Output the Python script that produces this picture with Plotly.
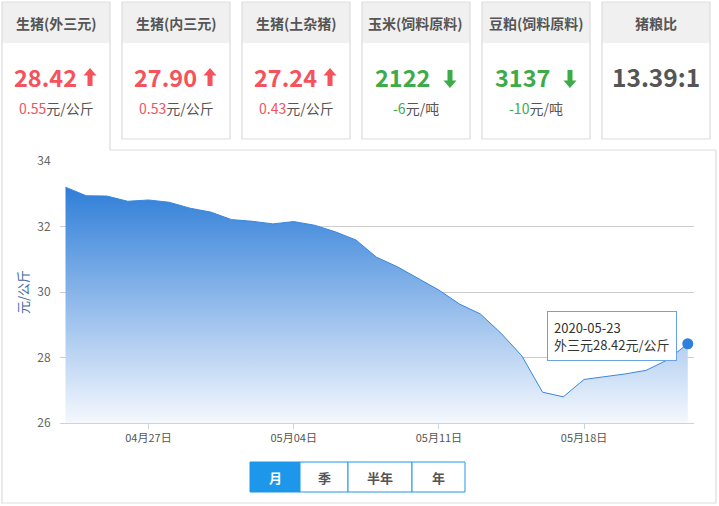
import plotly.graph_objects as go

# ---------------- data ----------------
dates = ["2020-04-23", "2020-04-24", "2020-04-25", "2020-04-26", "2020-04-27", "2020-04-28",
         "2020-04-29", "2020-04-30", "2020-05-01", "2020-05-02", "2020-05-03", "2020-05-04",
         "2020-05-05", "2020-05-06", "2020-05-07", "2020-05-08", "2020-05-09", "2020-05-10",
         "2020-05-11", "2020-05-12", "2020-05-13", "2020-05-14", "2020-05-15", "2020-05-16",
         "2020-05-17", "2020-05-18", "2020-05-19", "2020-05-20", "2020-05-21", "2020-05-22",
         "2020-05-23"]
prices = [33.20, 32.94, 32.93, 32.77, 32.81, 32.74, 32.56, 32.44, 32.21, 32.16, 32.08, 32.15,
          32.04, 31.84, 31.59, 31.06, 30.77, 30.42, 30.06, 29.63, 29.33, 28.74, 28.05, 26.94,
          26.80, 27.33, 27.41, 27.50, 27.61, 27.92, 28.42]
tick_dates = ["2020-04-27", "2020-05-04", "2020-05-11", "2020-05-18"]
tick_labels = ["04月27日", "05月04日", "05月11日", "05月18日"]
y_ticks = [26, 28, 30, 32, 34]

card_titles = ["生猪(外三元)", "生猪(内三元)", "生猪(土杂猪)", "玉米(饲料原料)", "豆粕(饲料原料)", "猪粮比"]
card_values = ["28.42", "27.90", "27.24", "2122", "3137", "13.39:1"]
card_changes = ["0.55", "0.53", "0.43", "-6", "-10", ""]
card_units = ["元/公斤", "元/公斤", "元/公斤", "元/吨", "元/吨", ""]
card_trend = ["up", "up", "up", "down", "down", ""]
buttons = ["月", "季", "半年", "年"]

RED = "#f5525c"
GREEN = "#3dab48"
GRAY = "#555555"
BORDER = "#dddddd"
BLUE_BTN = "#1c97ea"
FONT = "Noto Sans CJK SC"

# plot area in pixels
L, R, T, B = 60, 694, 161, 423
W, H = R - L, B - T


def px(x):
    return (x - L) / W


def py(y):
    return (B - y) / H


fig = go.Figure()

fig.add_trace(go.Scatter(
    x=dates, y=prices, mode="lines",
    line=dict(color="#3b87dc", width=1),
    fill="tozeroy",
    fillgradient=dict(type="vertical", start=26, stop=max(prices),
                      colorscale=[[0, "rgba(245,248,253,1)"], [1, "rgba(47,126,216,1)"]]),
    hoverinfo="skip", showlegend=False,
))
fig.add_trace(go.Scatter(
    x=[dates[-1]], y=[prices[-1]], mode="markers",
    marker=dict(size=11, color="#2f80dd"),
    hoverinfo="skip", showlegend=False,
))

shapes = []
annotations = []


def text_at(x, y, text, size, color, bold=False):
    annotations.append(dict(xref="paper", yref="paper", x=px(x), y=py(y),
                            xanchor="center", yanchor="middle",
                            text="<b>%s</b>" % text if bold else text, showarrow=False,
                            font=dict(size=size, color=color, family=FONT)))


# ---- cards ----
for i, title in enumerate(card_titles):
    x0 = 2 + 120 * i
    x1 = x0 + 108
    shapes.append(dict(type="rect", xref="paper", yref="paper",
                       x0=px(x0), x1=px(x1), y0=py(43), y1=py(2),
                       fillcolor="#f0f0f0", line=dict(width=0)))
    if i == 0:
        path = "M {} {} L {} {} L {} {} L {} {} L {} {} L {} {} L {} {} Z".format(
            px(2), py(503), px(2), py(2), px(110), py(2), px(110), py(150),
            px(716), py(150), px(716), py(503), px(2), py(503))
        shapes.append(dict(type="path", xref="paper", yref="paper", path=path,
                           line=dict(color=BORDER, width=1.2)))
    else:
        shapes.append(dict(type="rect", xref="paper", yref="paper",
                           x0=px(x0), x1=px(x1), y0=py(139), y1=py(2),
                           line=dict(color=BORDER, width=1.2)))
    cx = (x0 + x1) / 2
    text_at(cx, 23, title, 14, GRAY, bold=True)
    trend = card_trend[i]
    if trend:
        col = RED if trend == "up" else GREEN
        vx = x0 + (43.5 if trend == "up" else 40.5)
        text_at(vx, 77, card_values[i], 23.5, col, bold=True)
        ax = x0 + 88
        if trend == "up":
            pts = [(ax, 68), (ax + 6.5, 75.5), (ax + 2.5, 75.5), (ax + 2.5, 86),
                   (ax - 2.5, 86), (ax - 2.5, 75.5), (ax - 6.5, 75.5)]
        else:
            pts = [(ax, 88), (ax + 6.5, 80.5), (ax + 2.5, 80.5), (ax + 2.5, 70),
                   (ax - 2.5, 70), (ax - 2.5, 80.5), (ax - 6.5, 80.5)]
        path = "M " + " L ".join("%f %f" % (px(a), py(b)) for a, b in pts) + " Z"
        shapes.append(dict(type="path", xref="paper", yref="paper", path=path,
                           fillcolor=col, line=dict(width=0)))
        text_at(cx, 108, "<span style='color:%s'>%s</span>%s" % (col, card_changes[i], card_units[i]),
                14, GRAY)
    else:
        text_at(cx, 77, card_values[i], 24.5, GRAY, bold=True)

# ---- range buttons ----
btn_edges = [250, 300, 348, 412, 465]
for i, lab in enumerate(buttons):
    a, b = btn_edges[i], btn_edges[i + 1]
    sel = i == 0
    shapes.append(dict(type="rect", xref="paper", yref="paper",
                       x0=px(a), x1=px(b), y0=py(492), y1=py(462),
                       fillcolor=BLUE_BTN if sel else "white",
                       line=dict(color=BLUE_BTN, width=1)))
    text_at((a + b) / 2, 477, lab, 13, "white" if sel else GRAY, bold=True)

# ---- tooltip ----
annotations.append(dict(
    x=dates[-1], y=prices[-1], xref="x", yref="y",
    text="%s<br>外三元%.2f元/公斤" % (dates[-1], prices[-1]),
    showarrow=False, xanchor="right", yanchor="middle", xshift=-11, yshift=8,
    align="left", bgcolor="white", bordercolor="#6aa3e3", borderwidth=1, borderpad=6,
    font=dict(size=13, color="#333333", family=FONT),
))

fig.update_layout(
    width=719, height=506,
    margin=dict(l=L, r=719 - R, t=T, b=506 - B),
    paper_bgcolor="white", plot_bgcolor="white",
    font=dict(family=FONT, color=GRAY),
    shapes=shapes, annotations=annotations,
    showlegend=False,
)
fig.update_xaxes(
    type="date",
    range=["2020-04-22 17:38", "2020-05-23 07:12"],
    tickvals=tick_dates, ticktext=tick_labels,
    showgrid=False, zeroline=False,
    showline=True, linecolor="#c6d4e4", linewidth=1,
    ticks="outside", ticklen=5, tickcolor="#c6d4e4",
    tickfont=dict(size=11, color=GRAY, family=FONT),
)
fig.update_yaxes(
    range=[26, 34], tickvals=y_ticks,
    showgrid=True, gridcolor="#cccccc", gridwidth=1,
    zeroline=False, showline=False,
    ticks="outside", ticklen=6, tickcolor="rgba(0,0,0,0)",
    tickfont=dict(size=12, color="#666666", family=FONT),
    title=dict(text="元/公斤", font=dict(size=13, color="#3d6aa0", family=FONT), standoff=5),
)

fig.write_html("out.html", config={"displayModeBar": False},
               post_script="document.body.style.margin='0';")
